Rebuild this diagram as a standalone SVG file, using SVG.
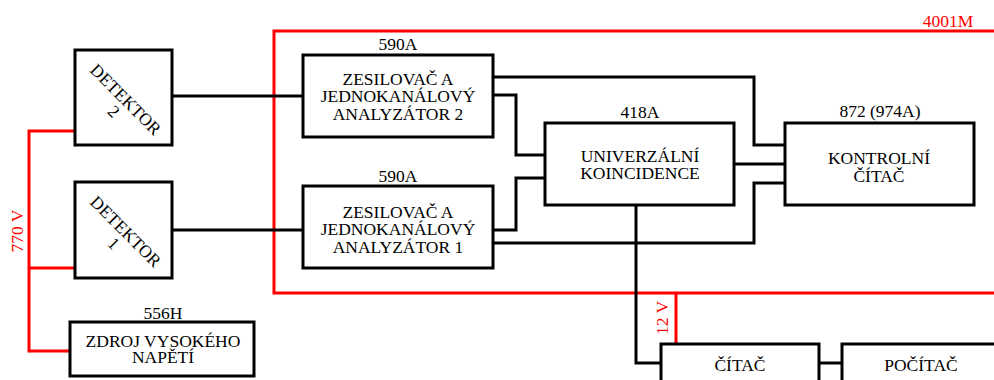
<svg xmlns="http://www.w3.org/2000/svg" width="994" height="380" viewBox="0 0 994 380">
<style>
.box{fill:#fff;stroke:#000;stroke-width:3}
.wire{fill:none;stroke:#000;stroke-width:3}
.red{fill:none;stroke:#f00;stroke-width:3}
text{font-family:"Liberation Serif","Times New Roman",serif;font-size:17.5px;fill:#000;text-anchor:middle}
.rt{fill:#f00}
</style>
<rect width="994" height="380" fill="#fff"/>
<g id="power">
<path class="red" d="M994,31 H274 V293 H994"/>
<path class="red" d="M676,293 V344"/>
<path class="red" d="M75,131 H29 V351 H70 M29,268 H75"/>
<text class="rt" x="948" y="27">4001M</text>
<text class="rt" transform="translate(23,231) rotate(-90)" x="0" y="0">770 V</text>
<text class="rt" transform="translate(668,318) rotate(-90)" x="0" y="0">12 V</text>
</g>
<g id="connectors">
<path class="wire" d="M172,96 H303"/>
<path class="wire" d="M172,230 H303"/>
<path class="wire" d="M493,77 H754 V145 H785"/>
<path class="wire" d="M493,95 H516 V155 H545"/>
<path class="wire" d="M734,164 H785"/>
<path class="wire" d="M493,230 H516 V178 H545"/>
<path class="wire" d="M493,243 H754 V183 H785"/>
<path class="wire" d="M636,205 V363 H661"/>
<path class="wire" d="M819,363 H842"/>
</g>
<g id="det2">
<rect class="box" x="75" y="50" width="97" height="95"/>
<g transform="translate(123,98) rotate(45)">
<text x="3" y="5">DETEKTOR</text>
<text x="3" y="22">2</text>
</g>
</g>
<g id="det1">
<rect class="box" x="75" y="182" width="97" height="96"/>
<g transform="translate(123,230) rotate(45)">
<text x="3" y="5">DETEKTOR</text>
<text x="3" y="22">1</text>
</g>
</g>
<g id="hv">
<rect class="box" x="70" y="322" width="184" height="54"/>
<text x="163" y="319">556H</text>
<text x="163" y="347">ZDROJ VYSOKÉHO</text>
<text x="163" y="363">NAPĚTÍ</text>
</g>
<g id="amp2">
<rect class="box" x="303" y="55" width="190" height="82"/>
<text x="398" y="50">590A</text>
<text x="398" y="85">ZESILOVAČ A</text>
<text x="398" y="102">JEDNOKANÁLOVÝ</text>
<text x="398" y="120">ANALYZÁTOR 2</text>
</g>
<g id="amp1">
<rect class="box" x="303" y="186" width="190" height="82"/>
<text x="398" y="182">590A</text>
<text x="398" y="218">ZESILOVAČ A</text>
<text x="398" y="235">JEDNOKANÁLOVÝ</text>
<text x="398" y="253">ANALYZÁTOR 1</text>
</g>
<g id="coinc">
<rect class="box" x="545" y="123" width="189" height="82"/>
<text x="640" y="118">418A</text>
<text x="640" y="162">UNIVERZÁLNÍ</text>
<text x="640" y="179">KOINCIDENCE</text>
</g>
<g id="ctrl">
<rect class="box" x="785" y="123" width="189" height="82"/>
<text x="880" y="117">872 (974A)</text>
<text x="879" y="164">KONTROLNÍ</text>
<text x="879" y="182">ČÍTAČ</text>
</g>
<g id="counter">
<rect class="box" x="661" y="344" width="158" height="50"/>
<text x="740" y="371">ČÍTAČ</text>
</g>
<g id="pc">
<rect class="box" x="842" y="344" width="170" height="50"/>
<text x="921" y="371">POČÍTAČ</text>
</g>
</svg>
